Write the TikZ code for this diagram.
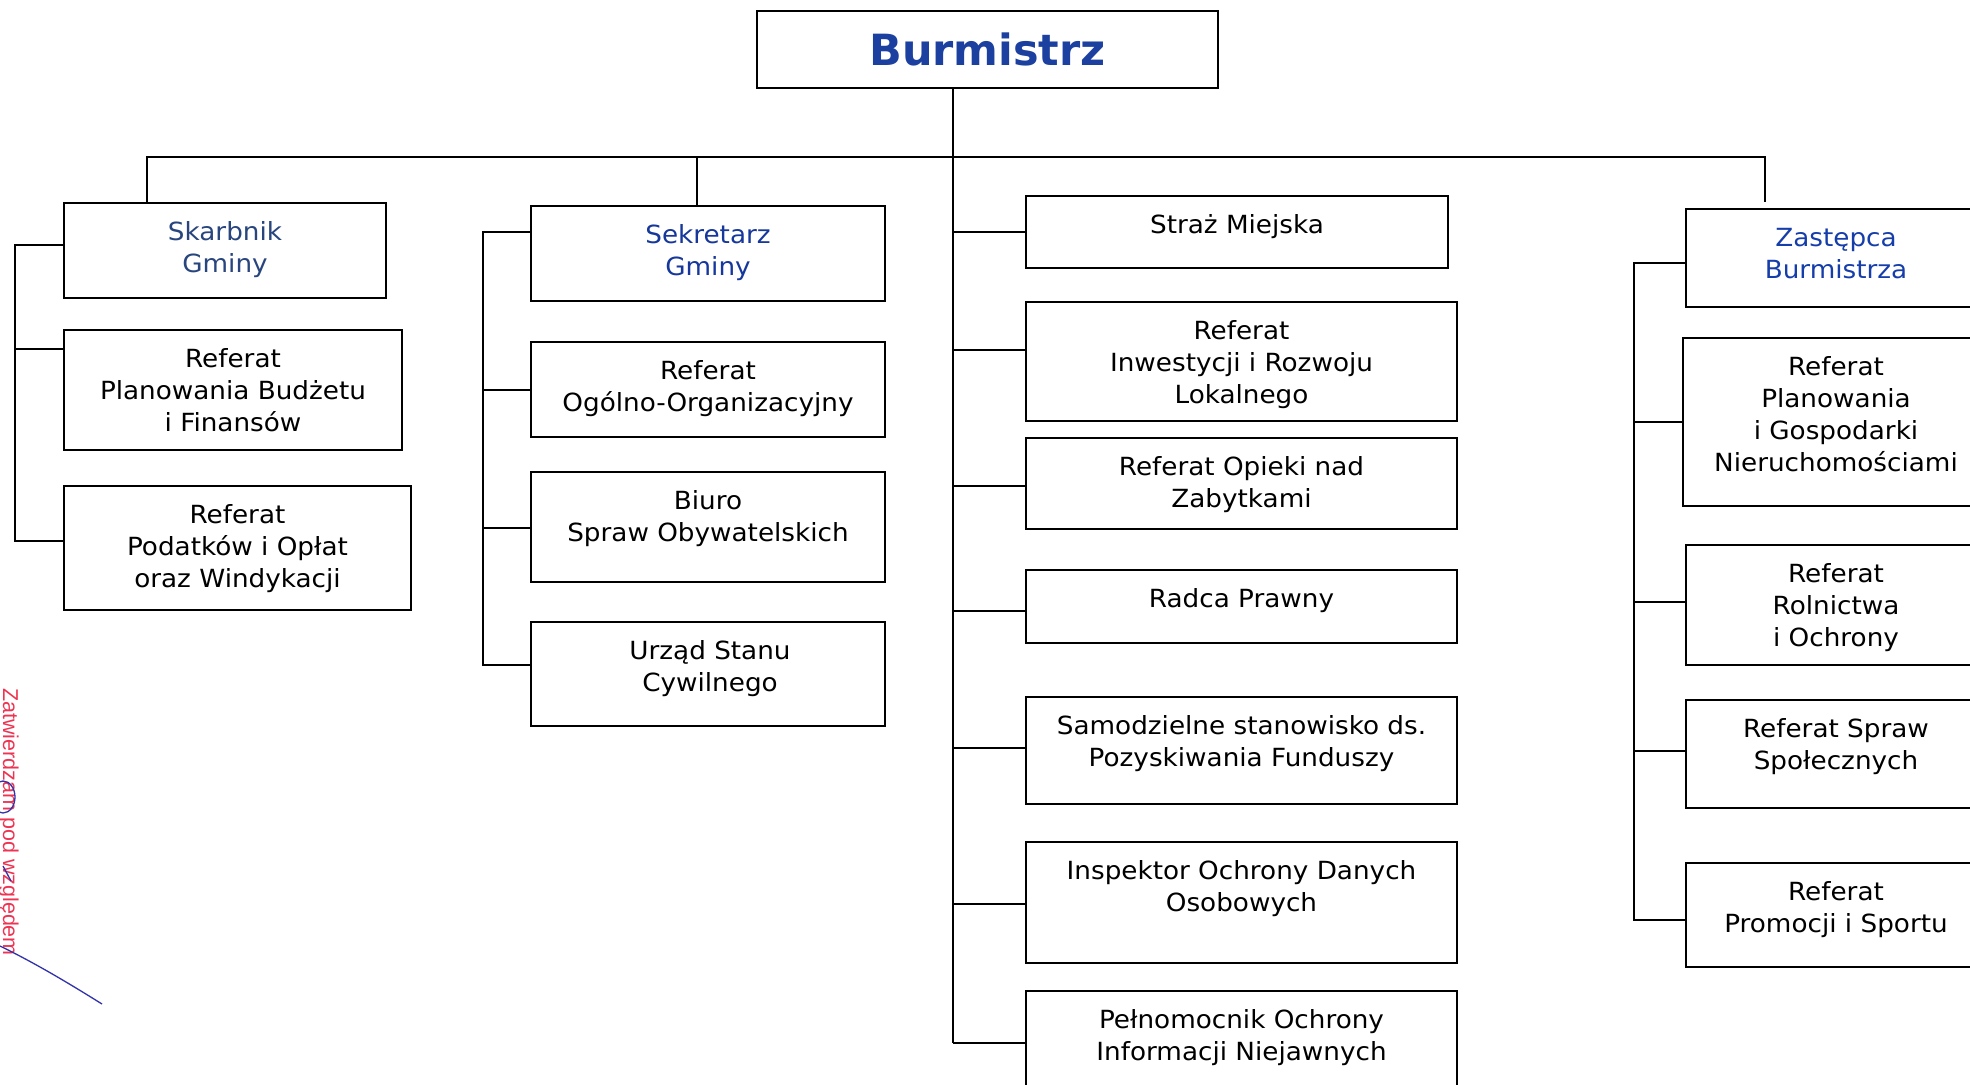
\documentclass[tikz,border=0pt]{standalone}
\usepackage{fontspec}
\setmainfont{DejaVu Sans}[FakeStretch=1.05]
\newfontfamily\titlefont{DejaVu Sans}
\newfontfamily\stampfont{Liberation Sans}
\definecolor{burmblue}{RGB}{28,64,160}
\definecolor{skarbblue}{RGB}{40,70,125}
\definecolor{sekblue}{RGB}{22,55,155}
\definecolor{zastblue}{RGB}{22,62,170}
\definecolor{stampred}{RGB}{238,52,82}
\definecolor{sigblue}{RGB}{50,50,170}
\newcommand\lblstrut{\rule{0pt}{25bp}}
\begin{document}
\begin{tikzpicture}[x=1bp,y=-1bp]
\tikzset{
  box/.style={draw=black, line width=2.2bp, inner sep=0pt, rectangle},
  lbl/.style={inner sep=0pt, align=center, anchor=north,
    font=\fontsize{25bp}{32.2bp}\selectfont},
  link/.style={line width=2.2bp, draw=black},
  sig/.style={line width=1.3bp, draw=sigblue},
}
\fill[white] (0,0) rectangle (1970,1084);
\useasboundingbox (0,0) rectangle (1970,1084);

% ---- top
\node[box, minimum width=461bp, minimum height=77bp, text=burmblue,
  font=\titlefont\bfseries\fontsize{43bp}{50bp}\selectfont] (burm) at (987.5,49.5) {Burmistrz};

% ---- left column (Skarbnik)
\node[box, minimum width=322bp, minimum height=95bp] (skarb) at (225,250.5) {};
\node[box, minimum width=338bp, minimum height=120bp] (plan) at (233,390) {};
\node[box, minimum width=347bp, minimum height=124bp] (podat) at (237.5,548) {};
\node[lbl, text=skarbblue] (skarb-t) at (225,215) {\lblstrut Skarbnik\\Gminy};
\node[lbl] (plan-t) at (233,342) {\lblstrut Referat\\Planowania Budżetu\\i Finansów};
\node[lbl] (podat-t) at (237.5,498) {\lblstrut Referat\\Podatków i Opłat\\oraz Windykacji};

% ---- second column (Sekretarz)
\node[box, minimum width=354bp, minimum height=95bp] (sek) at (708,253.5) {};
\node[box, minimum width=354bp, minimum height=95bp] (ogol) at (708,389.5) {};
\node[box, minimum width=354bp, minimum height=110bp] (biuro) at (708,527) {};
\node[box, minimum width=354bp, minimum height=104bp] (usc) at (708,674) {};
\node[lbl, text=sekblue] (sek-t) at (708,218) {\lblstrut Sekretarz\\Gminy};
\node[lbl] (ogol-t) at (708,354) {\lblstrut Referat\\Ogólno-Organizacyjny};
\node[lbl] (biuro-t) at (708,484) {\lblstrut Biuro\\Spraw Obywatelskich};
\node[lbl] (usc-t) at (710,634) {\lblstrut Urząd Stanu\\Cywilnego};

% ---- centre column
\node[box, minimum width=422bp, minimum height=72bp] (straz) at (1237,232) {};
\node[box, minimum width=431bp, minimum height=119bp] (inw) at (1241.5,361.5) {};
\node[box, minimum width=431bp, minimum height=91bp] (opieki) at (1241.5,483.5) {};
\node[box, minimum width=431bp, minimum height=73bp] (radca) at (1241.5,606.5) {};
\node[box, minimum width=431bp, minimum height=107bp] (samo) at (1241.5,750.5) {};
\node[box, minimum width=431bp, minimum height=121bp] (insp) at (1241.5,902.5) {};
\node[box, minimum width=431bp, minimum height=130bp] (peln) at (1241.5,1056) {};
\node[lbl] (straz-t) at (1237,208) {\lblstrut Straż Miejska};
\node[lbl] (inw-t) at (1241.5,314) {\lblstrut Referat\\Inwestycji i Rozwoju\\Lokalnego};
\node[lbl] (opieki-t) at (1241.5,450) {\lblstrut Referat Opieki nad\\Zabytkami};
\node[lbl] (radca-t) at (1241.5,582) {\lblstrut Radca Prawny};
\node[lbl] (samo-t) at (1241.5,709) {\lblstrut Samodzielne stanowisko ds.\\Pozyskiwania Funduszy};
\node[lbl] (insp-t) at (1241.5,854) {\lblstrut Inspektor Ochrony Danych\\Osobowych};
\node[lbl] (peln-t) at (1241.5,1003) {\lblstrut Pełnomocnik Ochrony\\Informacji Niejawnych};

% ---- right column (Zastepca)
\node[box, minimum width=330bp, minimum height=98bp] (zast) at (1851,258) {};
\node[box, minimum width=333bp, minimum height=168bp] (rplan) at (1849.5,422) {};
\node[box, minimum width=330bp, minimum height=120bp] (rol) at (1851,605) {};
\node[box, minimum width=330bp, minimum height=108bp] (spol) at (1851,754) {};
\node[box, minimum width=330bp, minimum height=104bp] (prom) at (1851,915) {};
\node[lbl, text=zastblue] (zast-t) at (1836,221) {\lblstrut Zastępca\\Burmistrza};
\node[lbl] (rplan-t) at (1836,350) {\lblstrut Referat\\Planowania\\i Gospodarki\\Nieruchomościami};
\node[lbl] (rol-t) at (1836,557) {\lblstrut Referat\\Rolnictwa\\i Ochrony};
\node[lbl] (spol-t) at (1836,712) {\lblstrut Referat Spraw\\Społecznych};
\node[lbl] (prom-t) at (1836,875) {\lblstrut Referat\\Promocji i Sportu};

% ---- connectors
\coordinate (busL) at (147,157);
\coordinate (busR) at (1765,157);
\coordinate (busS) at (697,157);
\coordinate (cV) at (953,1043);
\draw[link] (skarb.north -| busL) -- (busL) -- (busR) -- (1765,202);
\draw[link] (busS) -- (sek.north -| busS);
\draw[link] (burm.south -| cV) -- (cV);

% left bracket
\draw[link] (skarb.west |- 0,245) -- (15,245) -- (15,541) -- (podat.west |- 0,541);
\draw[link] (15,349) -- (plan.west |- 0,349);

% Sekretarz bracket
\draw[link] (sek.west |- 0,232) -- (483,232) -- (483,665) -- (usc.west |- 0,665);
\draw[link] (483,390) -- (ogol.west |- 0,390);
\draw[link] (483,528) -- (biuro.west |- 0,528);

% centre branches
\foreach \n/\yy in {straz/232, inw/350, opieki/486, radca/611, samo/748, insp/904, peln/1043}
  \draw[link] (953,\yy) -- (\n.west |- 0,\yy);

% right bracket
\draw[link] (zast.west |- 0,263) -- (1634,263) -- (1634,920) -- (prom.west |- 0,920);
\draw[link] (1634,422) -- (rplan.west |- 0,422);
\draw[link] (1634,602) -- (rol.west |- 0,602);
\draw[link] (1634,751) -- (spol.west |- 0,751);

% ---- stamp at the left edge
\node[rotate=-90, anchor=base west, inner sep=0pt, text=stampred,
  font=\stampfont\fontsize{21.5bp}{23bp}\selectfont] (stamp) at (3,688) {Zatwierdzam pod względem};
\draw[sig] (3,797) ellipse [x radius=12, y radius=16];
\draw[sig] (3,866) -- (11,881);
\draw[sig] (0,946) .. controls (35,963) and (70,984) .. (102,1004);
\end{tikzpicture}
\end{document}
